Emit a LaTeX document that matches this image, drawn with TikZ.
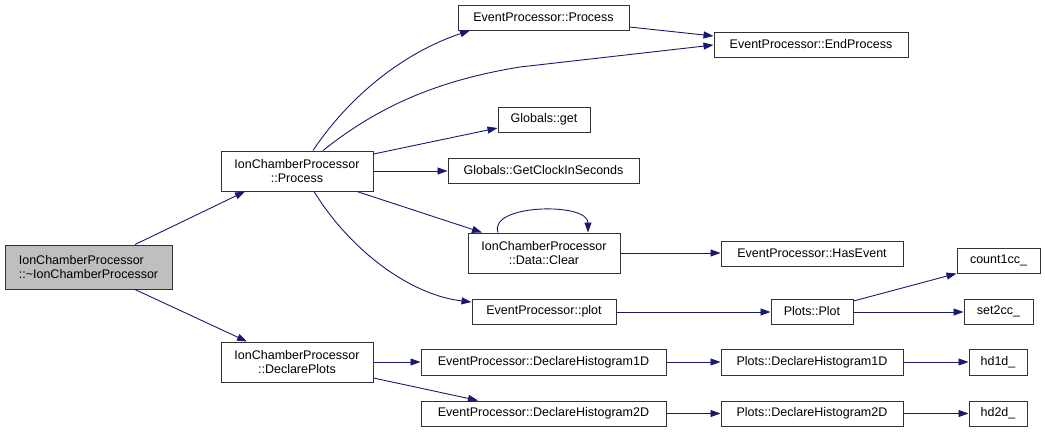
\documentclass[tikz,border=0pt]{standalone}
\usepackage{fontspec}
\setmainfont{Liberation Sans}
\usetikzlibrary{arrows.meta}
\definecolor{edgec}{HTML}{191970}
\definecolor{boxc}{HTML}{333333}
\definecolor{rootc}{HTML}{BFBFBF}
\begin{document}
\begin{tikzpicture}[x=1pt,y=-1pt,
  bx/.style={draw=boxc,line width=1pt,rectangle,inner sep=0pt,align=center,
    font=\fontsize{12.5}{14}\selectfont,text=black},
  ed/.style={draw=edgec,line width=0.9pt,-{Triangle[length=10pt,width=7pt]}}]
\useasboundingbox (0,0) rectangle (1045,432);
% nodes
\node[bx,align=left,fill=rootc,minimum width=167pt,minimum height=44pt] (root) at (88.5,267) {IonChamberProcessor\\::\textasciitilde IonChamberProcessor};
\node[bx,minimum width=152pt,minimum height=40pt] (proc) at (297,171) {IonChamberProcessor\\::Process};
\node[bx,minimum width=152pt,minimum height=40pt] (decl) at (297,362) {IonChamberProcessor\\::DeclarePlots};
\node[bx,minimum width=171pt,minimum height=25pt] (epproc) at (543.5,17.5) {EventProcessor::Process};
\node[bx,minimum width=194pt,minimum height=25pt] (endproc) at (811,44.5) {EventProcessor::EndProcess};
\node[bx,minimum width=92pt,minimum height=25pt] (gget) at (544,119.5) {Globals::get};
\node[bx,minimum width=191pt,minimum height=25pt] (gclock) at (543.5,170.5) {Globals::GetClockInSeconds};
\node[bx,minimum width=152pt,minimum height=40pt] (clear) at (544,253) {IonChamberProcessor\\::Data::Clear};
\node[bx,minimum width=182pt,minimum height=25pt] (hasev) at (812,253.5) {EventProcessor::HasEvent};
\node[bx,minimum width=144pt,minimum height=25pt] (plot) at (544,311.5) {EventProcessor::plot};
\node[bx,minimum width=82pt,minimum height=25pt] (pplot) at (812,311.5) {Plots::Plot};
\node[bx,minimum width=83pt,minimum height=25pt] (count) at (998.5,260.5) {count1cc\_};
\node[bx,minimum width=69pt,minimum height=25pt] (set2) at (998.5,311.5) {set2cc\_};
\node[bx,minimum width=245pt,minimum height=26pt] (epdh1) at (543.5,362) {EventProcessor::DeclareHistogram1D};
\node[bx,minimum width=245pt,minimum height=25pt] (epdh2) at (543.5,413.5) {EventProcessor::DeclareHistogram2D};
\node[bx,minimum width=182pt,minimum height=26pt] (pdh1) at (812,362) {Plots::DeclareHistogram1D};
\node[bx,minimum width=182pt,minimum height=25pt] (pdh2) at (812,413.5) {Plots::DeclareHistogram2D};
\node[bx,minimum width=58pt,minimum height=26pt] (hd1) at (998,362) {hd1d\_};
\node[bx,minimum width=58pt,minimum height=25pt] (hd2) at (998,413.5) {hd2d\_};
% edges
\draw[ed] (root.north -| 135,0) -- (proc.south -| 245,0);
\draw[ed] (root.south -| 135,0) -- (decl.north -| 247,0);
\draw[ed] (proc.north -| 313,0) .. controls (350,95) and (405,52) .. (epproc.south -| 470,0);
\draw[ed] (proc.north -| 323,0) .. controls (380,105) and (440,80) .. (520,67) -- (endproc.west |- 0,45);
\draw[ed] (epproc.east |- 0,27) -- (endproc.west |- 0,36);
\draw[ed] (proc.east |- 0,154) -- (gget.west |- 0,128);
\draw[ed] (proc.east |- 0,171) -- (gclock.west |- 0,171);
\draw[ed] (proc.south -| 357,0) -- (clear.north -| 482,0);
\draw[ed] (proc.south -| 314,0) .. controls (350,250) and (410,295) .. (plot.west |- 0,302);
\draw[ed] (clear.north -| 498,0) .. controls (488,204) and (588,202) .. (clear.north -| 588,0);
\draw[ed] (clear.east |- 0,253) -- (hasev.west |- 0,253);
\draw[ed] (plot.east |- 0,312) -- (pplot.west |- 0,312);
\draw[ed] (pplot.east |- 0,301) -- (count.south west);
\draw[ed] (pplot.east |- 0,312) -- (set2.west |- 0,312);
\draw[ed] (decl.east |- 0,362) -- (epdh1.west |- 0,362);
\draw[ed] (decl.east |- 0,378) -- (epdh2.north -| 478,0);
\draw[ed] (epdh1.east |- 0,362) -- (pdh1.west |- 0,362);
\draw[ed] (epdh2.east |- 0,413.5) -- (pdh2.west |- 0,413.5);
\draw[ed] (pdh1.east |- 0,362) -- (hd1.west |- 0,362);
\draw[ed] (pdh2.east |- 0,413.5) -- (hd2.west |- 0,413.5);
\end{tikzpicture}
\end{document}
